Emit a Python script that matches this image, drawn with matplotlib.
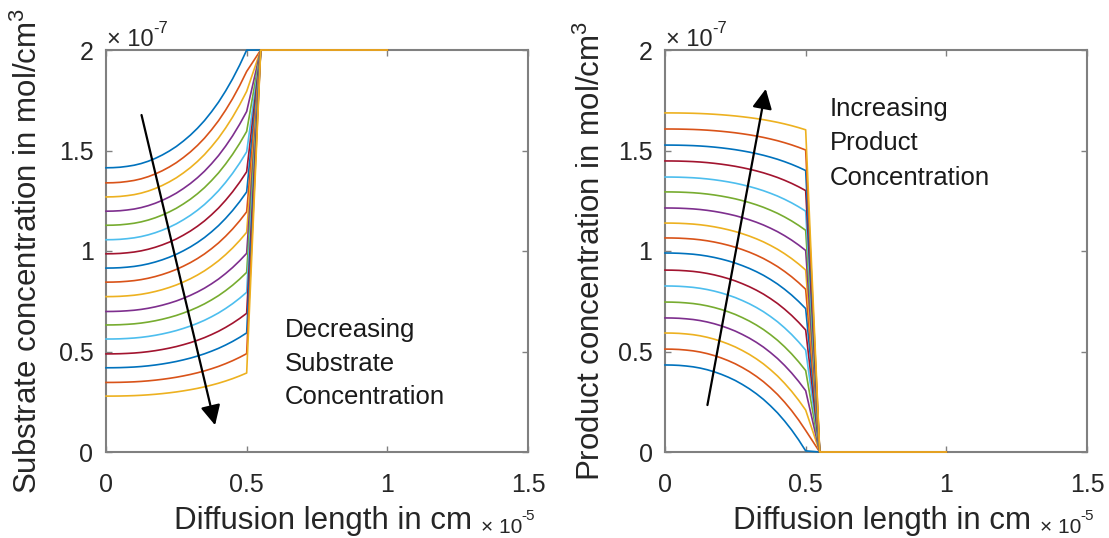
import matplotlib
matplotlib.use("Agg")
import matplotlib.pyplot as plt
import numpy as np

plt.rcParams['font.family'] = ['Liberation Sans', 'DejaVu Sans']
plt.rcParams['mathtext.fontset'] = 'custom'
plt.rcParams['mathtext.rm'] = 'Liberation Sans'
plt.rcParams['mathtext.it'] = 'Liberation Sans:italic'

# ---- data (x in units of 1e-5 cm, concentrations in units of 1e-7 mol/cm^3) ----
x_enzyme = [0.0, 0.025, 0.05, 0.075, 0.1, 0.125, 0.15, 0.175, 0.2, 0.225, 0.25,
            0.275, 0.3, 0.325, 0.35, 0.375, 0.4, 0.425, 0.45, 0.475, 0.5]
# relative substrate profile inside the layer (value / value at x=0)
profile = [1.0, 1.0005, 1.002, 1.005, 1.009, 1.015, 1.023, 1.033, 1.045, 1.059,
           1.075, 1.094, 1.115, 1.139, 1.166, 1.197, 1.231, 1.270, 1.313, 1.361,
           1.414]
x_outside = [0.55, 1.0]
bulk_substrate = 2.0
bulk_product = 0.0

substrate_start = [1.414, 1.339, 1.269, 1.198, 1.128, 1.056, 0.986, 0.915, 0.845,
                   0.773, 0.699, 0.632, 0.562, 0.488, 0.419, 0.346, 0.278]
product_start = [0.433, 0.512, 0.592, 0.667, 0.746, 0.826, 0.905, 0.990, 1.065,
                 1.139, 1.214, 1.294, 1.368, 1.448, 1.527, 1.607, 1.687]
product_yield = 0.73

colors = ['#0072BD', '#D95319', '#EDB120', '#7E2F8E', '#77AC30', '#4DBEEE', '#A2142F']

xticks = [0, 0.5, 1, 1.5]
yticks = [0, 0.5, 1, 1.5, 2]

fig = plt.figure(figsize=(11.09, 5.38), dpi=100)
ax1 = fig.add_axes([106/1109, 86/538, 422/1109, 402/538])
ax2 = fig.add_axes([665/1109, 86/538, 422/1109, 402/538])

prof = np.array(profile)
xin = np.array(x_enzyme)
for i, (s0, p0) in enumerate(zip(substrate_start, product_start)):
    c = colors[i % len(colors)]
    s = s0 * prof
    p = p0 - product_yield * s0 * (prof - 1)
    ax1.plot(np.r_[xin, x_outside], np.r_[s, [bulk_substrate] * 2], color=c, lw=1.2,
             zorder=3, clip_on=False)
    ax2.plot(np.r_[xin, x_outside], np.r_[p, [bulk_product] * 2], color=c, lw=1.2,
             zorder=3, clip_on=False)

tick_color = '#262626'


def exponent(ax, xf, yf, power, size, sup_size, sup_dx, sup_dy):
    ax.annotate('\u00d7 10', xy=(xf, yf), xycoords='axes fraction', xytext=(0, 0),
                textcoords='offset points', ha='left', va='center', fontsize=size,
                color=tick_color, annotation_clip=False)
    ax.annotate(power, xy=(xf, yf), xycoords='axes fraction', xytext=(sup_dx, sup_dy),
                textcoords='offset points', ha='left', va='center', fontsize=sup_size,
                color=tick_color, annotation_clip=False)


for ax in (ax1, ax2):
    ax.set_xlim(0, 1.5)
    ax.set_ylim(0, 2)
    ax.set_xticks(xticks)
    ax.set_yticks(yticks)
    ax.set_xticklabels([f"{t:g}" for t in xticks])
    ax.set_yticklabels([f"{t:g}" for t in yticks])
    ax.tick_params(direction='in', length=4, width=1, colors='#808080',
                   labelcolor=tick_color, labelsize=18, top=True, right=True)
    ax.tick_params(axis='x', pad=15)
    ax.tick_params(axis='y', pad=9)
    for sp in ax.spines.values():
        sp.set_color('#808080')
        sp.set_linewidth(1.5)
    exponent(ax, 0.003, 1.025, '-7', 17, 12, 33, 8)
    exponent(ax, 0.889, -0.187, '-5', 15, 11, 29, 8)
    ax.set_xlabel('Diffusion length in cm', fontsize=22.5, color=tick_color)
    ax.xaxis.set_label_coords(0.515, -0.172)
    ax.xaxis.label.set_va('center')

ax1.set_ylabel(r'Substrate concentration in mol/cm$^\mathregular{3}$', fontsize=22.5,
               color=tick_color)
ax2.set_ylabel(r'Product concentration in mol/cm$^\mathregular{3}$', fontsize=22.5,
               color=tick_color)
ax1.yaxis.set_label_coords(-0.185, 0.5)
ax2.yaxis.set_label_coords(-0.175, 0.5)
for ax in (ax1, ax2):
    ax.yaxis.label.set_va('center')

arrow = dict(arrowstyle='-|>', color='k', lw=1.6, mutation_scale=30)
ax1.annotate('', xy=(0.39, 0.12), xytext=(0.124, 1.69), arrowprops=arrow)
ax2.annotate('', xy=(0.36, 1.82), xytext=(0.149, 0.22), arrowprops=arrow)

ax1.text(0.635, 0.438, 'Decreasing\nSubstrate\nConcentration', fontsize=18.5,
         ha='left', va='center', linespacing=1.5, color='#1a1a1a')
ax2.text(0.585, 1.535, 'Increasing\nProduct\nConcentration', fontsize=18.5,
         ha='left', va='center', linespacing=1.55, color='#1a1a1a')

fig.savefig('out.png', dpi=100)
